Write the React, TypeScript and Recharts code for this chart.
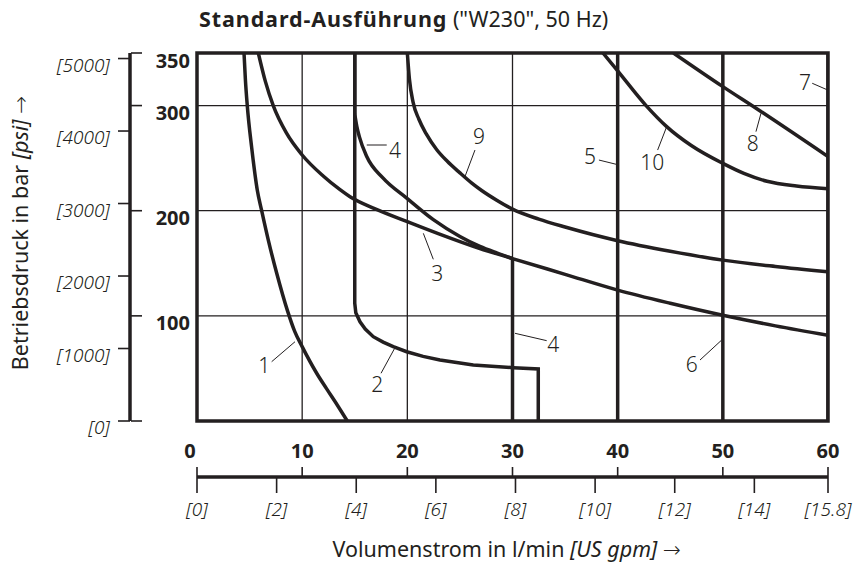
import React from "react";
import {
  LineChart,
  Line,
  XAxis,
  YAxis,
  CartesianGrid,
  ReferenceArea,
  ReferenceLine,
  ReferenceDot,
} from "recharts";

const INK = "#231f20";
const FONT = "'Noto Sans', sans-serif";
const ARROW_FONT = "'DejaVu Sans', sans-serif";

// main axes (bar, l/min)
const barTicks = [0, 100, 200, 300, 350];
const barLabels = ["", "100", "200", "300", "350"];
const flowTicks = [0, 10, 20, 30, 40, 50, 60];
const flowLabels = ["0", "10", "20", "30", "40", "50", "60"];

// secondary axes (psi, US gpm)
const psiMax = 5076.3; // = 350 bar
const psiTicks = [0, 1000, 2000, 3000, 4000, 5000];
const psiLabels = ["[0]", "[1000]", "[2000]", "[3000]", "[4000]", "[5000]"];
const gpmMax = 15.85; // = 60 l/min
const gpmTicks = [0, 2, 4, 6, 8, 10, 12, 14, 15.85];
const gpmLabels = ["[0]", "[2]", "[4]", "[6]", "[8]", "[10]", "[12]", "[14]", "[15.8]"];
const gpmSpan = [{ q: 0, p: 0 }, { q: gpmMax, p: 0 }];

// characteristic curves, q = l/min, p = bar
const curve1 = [
  { q: 4.47, p: 350 }, { q: 4.6, p: 325 }, { q: 4.78, p: 300 }, { q: 5.2, p: 260 },
  { q: 5.73, p: 219.7 }, { q: 6.15, p: 200 }, { q: 6.78, p: 172 }, { q: 7.58, p: 140.5 },
  { q: 8.6, p: 105 }, { q: 9.3, p: 85 }, { q: 10, p: 70.7 }, { q: 11.38, p: 45.4 },
  { q: 12.3, p: 31 }, { q: 13.35, p: 15 }, { q: 14.29, p: 0 },
];
const curve2 = [
  { q: 15, p: 350 }, { q: 15, p: 112 }, { q: 15.1, p: 103 }, { q: 15.5, p: 94.4 },
  { q: 16, p: 87.5 }, { q: 16.76, p: 80.2 }, { q: 17.7, p: 75 }, { q: 18.66, p: 70.7 },
  { q: 19.94, p: 65.9 }, { q: 21.5, p: 61.5 }, { q: 23.1, p: 58 }, { q: 26.27, p: 53.3 },
  { q: 30.08, p: 50.7 }, { q: 32.45, p: 49.5 }, { q: 32.45, p: 0 },
];
const curve3 = [
  { q: 5.83, p: 350 }, { q: 6.5, p: 323 }, { q: 7.25, p: 300 }, { q: 8.5, p: 274 },
  { q: 10, p: 253 }, { q: 12, p: 233 }, { q: 13.6, p: 220 }, { q: 14.55, p: 213.3 },
  { q: 17, p: 201.5 }, { q: 20, p: 189.6 }, { q: 23, p: 178 }, { q: 26.9, p: 164 },
  { q: 30, p: 154.5 }, { q: 35, p: 139.5 }, { q: 40, p: 124.5 }, { q: 45, p: 112 },
  { q: 50, p: 100.6 }, { q: 55, p: 90.5 }, { q: 60, p: 81.6 },
];
const curve4Top = [{ q: 15, p: 350 }, { q: 15, p: 292 }];
const curve4Arc = [
  { q: 15, p: 292 }, { q: 15.2, p: 280 }, { q: 15.45, p: 270 }, { q: 16.14, p: 251.5 },
  { q: 17.7, p: 231 }, { q: 19.94, p: 212 }, { q: 22.47, p: 191.5 }, { q: 25, p: 175.5 },
  { q: 26.9, p: 166 }, { q: 28.5, p: 159.8 }, { q: 30, p: 154.5 },
];
const curve4Drop = [{ q: 30, p: 154.5 }, { q: 30, p: 0 }];
const curve5 = [{ q: 40, p: 350 }, { q: 40, p: 0 }];
const curve6 = [{ q: 50, p: 350 }, { q: 50, p: 0 }];
const curve7 = [{ q: 60, p: 350 }, { q: 60, p: 0 }];
const curve8 = [{ q: 45.3, p: 350 }, { q: 50, p: 318 }, { q: 53.3, p: 296.5 }, { q: 60, p: 251.5 }];
const curve9 = [
  { q: 20, p: 350 }, { q: 20.2, p: 325 }, { q: 20.55, p: 303 }, { q: 21.1, p: 287 },
  { q: 21.8, p: 273 }, { q: 22.8, p: 258 }, { q: 23.8, p: 247 }, { q: 25, p: 236 },
  { q: 26.1, p: 226.5 }, { q: 27.1, p: 219 }, { q: 28.5, p: 210 }, { q: 30, p: 201.5 },
  { q: 32.5, p: 192 }, { q: 35, p: 184.5 }, { q: 40, p: 171.5 }, { q: 45, p: 161.5 },
  { q: 50, p: 153 }, { q: 55, p: 147 }, { q: 60, p: 142 },
];
const curve10 = [
  { q: 38.6, p: 350 }, { q: 40, p: 333 }, { q: 42.7, p: 300 }, { q: 44.66, p: 280 },
  { q: 47, p: 262 }, { q: 50, p: 245 }, { q: 52, p: 235.5 }, { q: 54.2, p: 228 },
  { q: 57, p: 223.5 }, { q: 60, p: 221 },
];

const smoothCurves = [curve1, curve3, curve4Arc, curve8, curve9, curve10];
const straightCurves = [curve2, curve4Top, curve4Drop, curve5, curve6, curve7];

// curve numbers with their leader lines
const calloutNames = ["1", "2", "3", "4", "4", "5", "6", "7", "8", "9", "10"];
const calloutAt = [
  { q: 6.4, p: 52.3 }, { q: 17.14, p: 34.2 }, { q: 22.85, p: 140.5 }, { q: 18.83, p: 257.7 },
  { q: 33.88, p: 72.3 }, { q: 37.37, p: 251.4 }, { q: 47.04, p: 53.3 }, { q: 57.81, p: 321.8 },
  { q: 52.84, p: 263.5 }, { q: 26.81, p: 270.4 }, { q: 43.29, p: 245.7 },
];
const leaderFrom = [
  { q: 7.1, p: 56.4 }, { q: 17.5, p: 45.4 }, { q: 21.52, p: 178.5 }, { q: 16.14, p: 262.5 },
  { q: 30.24, p: 83.4 }, { q: 38.22, p: 248.2 }, { q: 47.83, p: 58 }, { q: 58.5, p: 321.2 },
  { q: 53.15, p: 275.2 }, { q: 26.43, p: 257.7 }, { q: 43.8, p: 257.7 },
];
const leaderTo = [
  { q: 9.32, p: 75.4 }, { q: 18.76, p: 68.5 }, { q: 22.47, p: 153.8 }, { q: 18.04, p: 262.5 },
  { q: 33.25, p: 76.4 }, { q: 39.84, p: 244.2 }, { q: 49.89, p: 77 }, { q: 59.97, p: 314.8 },
  { q: 53.63, p: 292.7 }, { q: 25.48, p: 232.4 }, { q: 44.66, p: 279.9 },
];

const BarTick = (props: any) => {
  const { x, y, payload } = props;
  const label = barLabels[barTicks.indexOf(payload.value)];
  return (
    <g>
      <line x1={x - 66} x2={x - 55} y1={y} y2={y} stroke={INK} strokeWidth={1.6} />
      {label ? (
        <text x={x - 7} y={y + 7} textAnchor="end" dominantBaseline="central"
          fontFamily={FONT} fontWeight={700} fontSize={20} fill={INK}>
          {label}
        </text>
      ) : null}
    </g>
  );
};

const PsiTick = (props: any) => {
  const { x, y, payload } = props;
  return (
    <text x={x} y={y + 6} textAnchor="end" dominantBaseline="central"
      fontFamily={FONT} fontStyle="italic" fontWeight={300} fontSize={19} fill={INK}>
      {psiLabels[psiTicks.indexOf(payload.value)]}
    </text>
  );
};

const FlowTick = (props: any) => {
  const { x, y, payload } = props;
  const label = flowLabels[flowTicks.indexOf(payload.value)];
  return (
    <g>
      <line x1={x} x2={x} y1={y + 46} y2={y + 56} stroke={INK} strokeWidth={1.6} />
      <text x={payload.value === 0 ? x - 7 : x} y={y + 29} textAnchor="middle" dominantBaseline="central"
        fontFamily={FONT} fontWeight={700} fontSize={20} fill={INK}>
        {label}
      </text>
    </g>
  );
};

const GpmTick = (props: any) => {
  const { x, y, payload } = props;
  return (
    <text x={x} y={y + 16} textAnchor="middle" dominantBaseline="central"
      fontFamily={FONT} fontStyle="italic" fontWeight={300} fontSize={19} fill={INK}>
      {gpmLabels[gpmTicks.indexOf(payload.value)]}
    </text>
  );
};

export default function App() {
  return (
    <div style={{ position: "absolute", left: 0, top: 0, width: 857, height: 568, background: "#fff", fontFamily: FONT, color: INK }}>
      <LineChart width={857} height={568} margin={{ top: 53, right: 29, bottom: 31, left: 20 }}>
        <XAxis xAxisId="flow" dataKey="q" type="number" orientation="bottom" domain={[0, 60]}
          ticks={flowTicks} interval={0} height={56} axisLine={false} tickLine={false}
          tickSize={0} tickMargin={0} tick={<FlowTick />} allowDataOverflow />
        <XAxis xAxisId="gpm" dataKey="q" type="number" orientation="bottom" domain={[0, gpmMax]}
          ticks={gpmTicks} interval={0} height={60} axisLine={{ stroke: INK, strokeWidth: 3.5 }}
          tickLine={{ stroke: INK, strokeWidth: 1.6 }} tickSize={16} tickMargin={0}
          tick={<GpmTick />} allowDataOverflow />
        <YAxis yAxisId="bar" type="number" orientation="left" domain={[0, 350]} ticks={barTicks}
          interval={0} width={67} axisLine={false} tickLine={false} tickSize={0} tickMargin={0}
          tick={<BarTick />} allowDataOverflow />
        <YAxis yAxisId="psi" type="number" orientation="left" domain={[0, psiMax]} ticks={psiTicks}
          interval={0} width={110} axisLine={{ stroke: INK, strokeWidth: 3.5 }}
          tickLine={{ stroke: INK, strokeWidth: 1.6 }} tickSize={12} tickMargin={8}
          tick={<PsiTick />} allowDataOverflow />
        <CartesianGrid xAxisId="flow" yAxisId="bar" stroke={INK} strokeWidth={1.3} />

        {/* invisible span so the gpm axis has a domain to work with */}
        <Line xAxisId="gpm" yAxisId="bar" data={gpmSpan} dataKey="p" stroke="none"
          dot={false} activeDot={false} isAnimationActive={false} />

        {straightCurves.map((c, i) => (
          <Line key={`s${i}`} xAxisId="flow" yAxisId="bar" data={c} dataKey="p" type="linear"
            stroke={INK} strokeWidth={3.5} dot={false} activeDot={false} isAnimationActive={false} />
        ))}
        {smoothCurves.map((c, i) => (
          <Line key={`m${i}`} xAxisId="flow" yAxisId="bar" data={c} dataKey="p" type="monotone"
            stroke={INK} strokeWidth={3.5} dot={false} activeDot={false} isAnimationActive={false} />
        ))}

        <ReferenceArea xAxisId="flow" yAxisId="bar" x1={0} x2={60} y1={0} y2={350}
          fill="none" fillOpacity={0} stroke={INK} strokeWidth={3.5} />

        {calloutNames.map((name, i) => (
          <ReferenceLine key={`l${i}`} xAxisId="flow" yAxisId="bar"
            segment={[{ x: leaderFrom[i].q, y: leaderFrom[i].p }, { x: leaderTo[i].q, y: leaderTo[i].p }]}
            stroke={INK} strokeWidth={1} />
        ))}
        {calloutNames.map((name, i) => (
          <ReferenceDot key={`d${i}`} xAxisId="flow" yAxisId="bar" x={calloutAt[i].q} y={calloutAt[i].p}
            r={0} fill="none" stroke="none"
            label={{ value: name, position: "center", fill: INK, fontSize: 21, fontWeight: 300, fontFamily: FONT }} />
        ))}
      </LineChart>

      <div style={{ position: "absolute", left: 199, top: 9, fontSize: 21.5, lineHeight: "20px", whiteSpace: "nowrap" }}>
        <b style={{ letterSpacing: "0.9px" }}>Standard-Ausführung</b> ("W230", 50 Hz)
      </div>
      <div style={{ position: "absolute", left: 506.7, top: 539, fontSize: 21.5, lineHeight: "20px", whiteSpace: "nowrap", transform: "translateX(-50%)" }}>
        Volumenstrom in l/min <i>[US gpm]</i> <span style={{ fontFamily: ARROW_FONT, fontWeight: 300 }}>→</span>
      </div>
      <div style={{ position: "absolute", left: 19.5, top: 232.5, fontSize: 21.5, lineHeight: "20px", whiteSpace: "nowrap", transform: "translate(-50%, -50%) rotate(-90deg)" }}>
        Betriebsdruck in bar <i>[psi]</i> <span style={{ fontFamily: ARROW_FONT, fontWeight: 300 }}>→</span>
      </div>
    </div>
  );
}
